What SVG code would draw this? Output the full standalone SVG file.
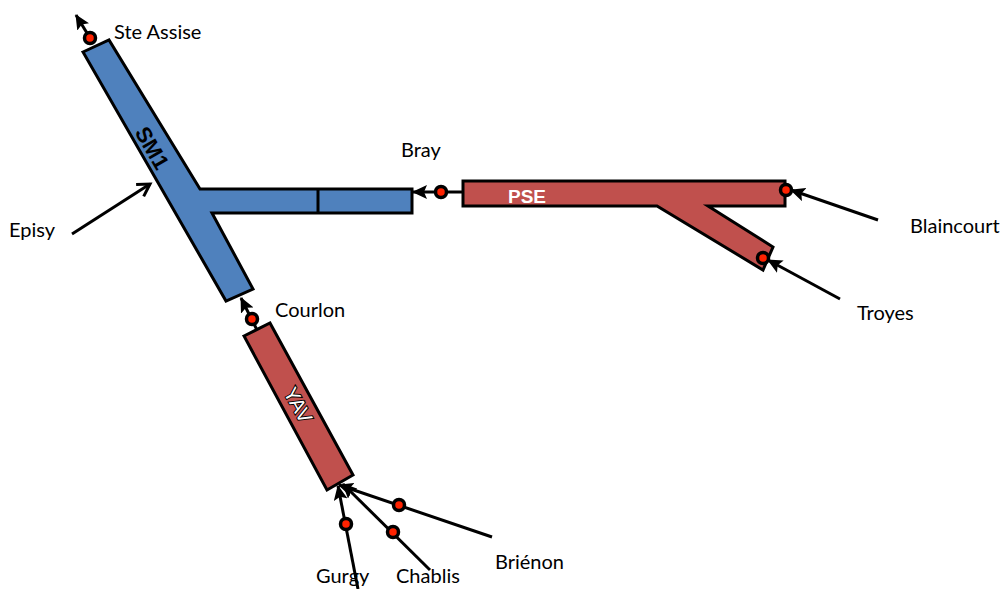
<svg xmlns="http://www.w3.org/2000/svg" width="1008" height="589" viewBox="0 0 1008 589">
<defs>
<style>
.lbl{font-family:Lato,"Liberation Sans",sans-serif;font-size:20px;fill:#000}
.shape{stroke:#000;stroke-width:3;stroke-linejoin:miter}
.blue{fill:#4F81BD}
.red{fill:#C0504D}
.ln{stroke:#000;stroke-width:3;fill:none}
.dot{fill:#FF2200;stroke:#000;stroke-width:3.5}
</style>
<marker id="ah" markerUnits="userSpaceOnUse" markerWidth="16" markerHeight="14" refX="14" refY="7" orient="auto">
<path d="M0,0 L15,7 L0,14 L3,7 z" fill="#000"/>
</marker>
<marker id="oa" markerUnits="userSpaceOnUse" markerWidth="18" markerHeight="18" refX="15" refY="9" orient="auto">
<path d="M3,2 L15,9 L3,16" fill="none" stroke="#000" stroke-width="3"/>
</marker>
</defs>
<rect width="1008" height="589" fill="#fff"/>

<g id="SM1">
<polygon class="shape blue" points="83,52 109,40 200,189 412,189 412,213 212,213 253,289 226,301"/>
<line x1="318" y1="189" x2="318" y2="213" stroke="#000" stroke-width="3"/>
<text transform="translate(152,148) rotate(60)" text-anchor="middle" dominant-baseline="central" style="font-family:'Liberation Sans',sans-serif;font-weight:bold;font-size:22px" fill="#000">SM1</text>
</g>

<g id="PSE">
<polygon class="shape red" points="463,181 785,181 785,206 708,206 773,247 763,270 657,206 463,206"/>
<text x="508" y="203" style="font-family:'Liberation Sans',sans-serif;font-weight:bold;font-size:19px" fill="#fff">PSE</text>
</g>

<g id="YAV">
<polygon class="shape red" points="244,336 270,323 353,475 327,490"/>
<text transform="translate(298,405) rotate(61)" text-anchor="middle" dominant-baseline="central" style="font-family:'Liberation Sans',sans-serif;font-size:20px;paint-order:stroke;stroke:#000;stroke-width:2" fill="#fff">YAV</text>
</g>

<g id="connectors">
<line class="ln" x1="90" y1="38" x2="76" y2="15" marker-end="url(#ah)"/>
<line class="ln" x1="72" y1="234" x2="150" y2="184" marker-end="url(#oa)"/>
<line class="ln" x1="463" y1="192" x2="413" y2="192" marker-end="url(#ah)"/>
<line class="ln" x1="878" y1="220" x2="791" y2="190" marker-end="url(#ah)"/>
<line class="ln" x1="840" y1="299" x2="768" y2="260" marker-end="url(#ah)"/>
<line class="ln" x1="257" y1="330" x2="241" y2="298" marker-end="url(#ah)"/>
<line class="ln" x1="492" y1="537" x2="339" y2="485" marker-end="url(#ah)"/>
<line class="ln" x1="430" y1="570" x2="343" y2="484" marker-end="url(#ah)"/>
<line class="ln" x1="358" y1="589" x2="338" y2="486" marker-end="url(#ah)"/>
</g>

<g id="stations">
<circle class="dot" cx="90" cy="38" r="5.5"/>
<circle class="dot" cx="441" cy="192" r="5.5"/>
<circle class="dot" cx="786" cy="190" r="5.5"/>
<circle class="dot" cx="763" cy="258" r="5.5"/>
<circle class="dot" cx="252" cy="319" r="5.5"/>
<circle class="dot" cx="399" cy="505" r="5.5"/>
<circle class="dot" cx="393" cy="532" r="5.5"/>
<circle class="dot" cx="346" cy="524" r="5.5"/>
</g>

<g id="labels">
<text class="lbl" x="114" y="39">Ste Assise</text>
<text class="lbl" x="9" y="237">Episy</text>
<text class="lbl" x="401" y="157">Bray</text>
<text class="lbl" x="910" y="233">Blaincourt</text>
<text class="lbl" x="857" y="320">Troyes</text>
<text class="lbl" x="275" y="317">Courlon</text>
<text class="lbl" x="495" y="569">Briénon</text>
<text class="lbl" x="316" y="583">Gurgy</text>
<text class="lbl" x="396" y="583">Chablis</text>
</g>
</svg>
